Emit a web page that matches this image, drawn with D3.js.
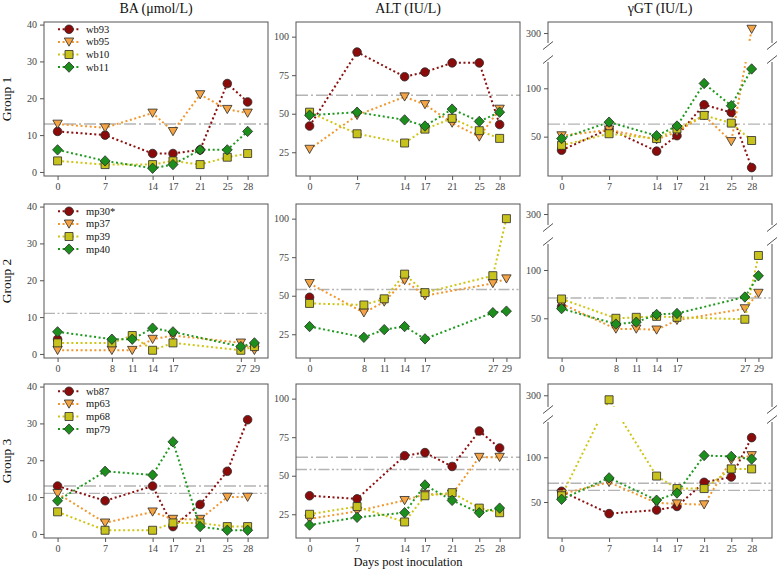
<!DOCTYPE html>
<html><head><meta charset="utf-8">
<script src="https://cdn.jsdelivr.net/npm/d3@7"></script>
<style>body{margin:0;background:#fff} text{font-family:"Liberation Serif","Times New Roman",serif}</style>
</head><body><svg id="c" width="778" height="571"></svg>
<script>
const daysA = [0,7,14,17,21,25,28];
const daysB = [0,8,11,14,17,27,29];
const g1Names = ["wb93","wb95","wb10","wb11"];
const g2Names = ["mp30*","mp37","mp39","mp40"];
const g3Names = ["wb87","mp63","mp68","mp79"];
const titles = ["BA (\u03bcmol/L)","ALT (IU/L)","\u03b3GT (IU/L)"];
const groupLabels = ["Group 1","Group 2","Group 3"];
const g1BA  = [[11,10,5,5,6,24,19],[13,12,16,11,21,17,16],[3,2,2,3,2,4,5],[6,3,1,2,6,6,11]];
const g1ALT = [[42,90,74,77,83,83,43],[27,49,61,56,44,35,53],[51,37,31,40,47,39,34],[49,51,46,42,53,45,51]];
const g1GGT = [[36,58,35,51,83,75,18],[51,57,47,55,72,45,304],[41,53,48,58,72,64,46],[48,65,51,61,105,82,120]];
const g2BA  = [[4,null,null,null,null,null,null],[1,1,1,4,5,3,1],[3,3,5,1,3,1,2],[6,4,4,7,6,2,3]];
const g2ALT = [[49,null,null,null,null,null,null],[58,39,46,60,50,58,61],[45,44,48,64,52,63,100],[30,23,28,30,22,39,40]];
const g2GGT = [[62,null,null,null,null,null,null],[65,39,39,38,48,60,76],[70,50,51,52,51,49,115],[60,44,46,54,55,72,94]];
const g3BA  = [[13,9,13,2,8,17,31],[11,3,6,4,4,10,10],[6,1,1,3,3,2,2],[9,17,16,25,2,1,1]];
const g3ALT = [[37,35,63,65,56,79,68],[22,27,34,38,38,62,62],[25,30,20,37,39,29,26],[18,23,26,44,34,26,29]];
const g3GGT = [[62,37,41,45,72,78,122],[59,72,49,48,47,97,102],[57,295,79,65,65,87,87],[53,77,52,60,102,101,98]];
const refBA = [13,11], refALT = [62,54], refGGT = [63,71];
const ticksBA = [0,10,20,30,40], ticksALT = [25,50,75,100], ticksGGTlo = [50,100], ticksGGThi = [300];

const groups = [
  {names:g1Names, days:daysA, data:[g1BA,g1ALT,g1GGT], refs:[0]},
  {names:g2Names, days:daysB, data:[g2BA,g2ALT,g2GGT], refs:[1]},
  {names:g3Names, days:daysA, data:[g3BA,g3ALT,g3GGT], refs:[0,1]}
];
const refVals = [refBA, refALT, refGGT];
const refDash = ["12,3,2,3","11,2.5,2,2.5,2,2.5"];

const lefts=[44,296,548], W=224, tops=[22,204,384], H=154;
const xDom=[-2,31];
const baDom=[-1.1,40.7], altDom=[9.6,109.5];
const ggtLo=[[9.3,127.2],[8.9,126.9],[9.7,139.5]];
const ggtHi=[[289.7,311.4],[288.6,310.4],[286.9,312.6]];
const ggtGap=[[21,40],[21,40],[23,38]];
const lineCol=["#8b1010","#f0982e","#cfc514","#1f991f"];
const fillCol=["#8b0b0b","#f4a444","#c8c21c","#1b8e1b"];
const shapes=["circle","tri","square","diamond"];

const svg=d3.select("#c");
function marker(g,shape,x,y,i){
  let p;
  if(shape==="circle"){ g.append("circle").attr("cx",x).attr("cy",y).attr("r",4.3).attr("fill",fillCol[i]).attr("stroke","#2a2a2a").attr("stroke-width",0.8); return;}
  if(shape==="tri") p=`M${x-4.7},${y-3.9}L${x+4.7},${y-3.9}L${x},${y+4.3}Z`;
  if(shape==="square") p=`M${x-4},${y-4}h8v8h-8Z`;
  if(shape==="diamond") p=`M${x},${y-5.2}L${x+5},${y}L${x},${y+5.2}L${x-5},${y}Z`;
  g.append("path").attr("d",p).attr("fill",fillCol[i]).attr("stroke","#2a2a2a").attr("stroke-width",0.8);
}

titles.forEach((t,c)=>{
  svg.append("text").attr("x",lefts[c]+W/2).attr("y",13).attr("text-anchor","middle").attr("font-size",14).attr("fill","#111").text(t);
});
svg.append("text").attr("x",408).attr("y",566).attr("text-anchor","middle").attr("font-size",12.5).attr("fill","#111").text("Days post inoculation");

groups.forEach((grp,r)=>{
  const T=tops[r];
  svg.append("text").attr("transform",`translate(11,${T+H/2}) rotate(-90)`).attr("text-anchor","middle").attr("font-size",13.5).attr("fill","#111").text(groupLabels[r]);
  for(let c=0;c<3;c++){
    const L=lefts[c];
    const g=svg.append("g");
    const x=d3.scaleLinear().domain(xDom).range([L,L+W]);
    let yf, axes=[];
    if(c===0){const y=d3.scaleLinear().domain(baDom).range([T+H,T]); yf=y; axes.push([y,ticksBA]);}
    else if(c===1){const y=d3.scaleLinear().domain(altDom).range([T+H,T]); yf=y; axes.push([y,ticksALT]);}
    else {
      const lo=d3.scaleLinear().domain(ggtLo[r]).range([T+H,T+ggtGap[r][1]]);
      const hi=d3.scaleLinear().domain(ggtHi[r]).range([T+ggtGap[r][0],T]);
      yf=v=> v>=ggtHi[r][0]?hi(v):lo(v);
      axes.push([lo,ticksGGTlo]); axes.push([hi,ticksGGThi]);
    }
    const cid=`clip${r}${c}`;
    svg.append("clipPath").attr("id",cid).append("rect").attr("x",L).attr("y",T).attr("width",W).attr("height",H);
    const inner=g.append("g").attr("clip-path",`url(#${cid})`);
    grp.refs.forEach(k=>{
      const v=refVals[c][k];
      inner.append("line").attr("x1",L).attr("x2",L+W).attr("y1",yf(v)).attr("y2",yf(v))
        .attr("stroke","#b4b4b4").attr("stroke-width",1.4).attr("stroke-dasharray",refDash[k]);
    });
    const series=grp.data[c];
    const lg=g.append("g");
    series.forEach((vals,i)=>{
      const pts=grp.days.map((d,j)=>[d,vals[j]]);
      const line=d3.line().defined(p=>p[1]!=null).x(p=>x(p[0])).y(p=>yf(p[1]));
      inner.append("path").attr("d",line(pts)).attr("fill","none").attr("stroke",lineCol[i])
        .attr("stroke-width",2).attr("stroke-dasharray","2,2.6");
      pts.filter(p=>p[1]!=null).forEach(p=>marker(inner,shapes[i],x(p[0]),yf(p[1]),i));
    });
    g.append("rect").attr("x",L).attr("y",T).attr("width",W).attr("height",H).attr("fill","none").attr("stroke","#555").attr("stroke-width",1);
    if(c===2){
      const a=T+ggtGap[r][0], b=T+ggtGap[r][1];
      g.append("rect").attr("x",L-1.5).attr("y",a).attr("width",W+3).attr("height",b-a).attr("fill","#fff");
      [L,L+W].forEach(xx=>{
        [a+2.5,b-2.5].forEach(yy=>{
          g.append("line").attr("x1",xx-5).attr("y1",yy+4).attr("x2",xx+5).attr("y2",yy-4).attr("stroke","#555").attr("stroke-width",1);
        });
      });
    }
    axes.forEach(([s,tv])=>{
      const ax=g.append("g").attr("transform",`translate(${L},0)`).call(d3.axisLeft(s).tickValues(tv).tickSize(4).tickPadding(3));
      ax.select(".domain").remove();
      ax.selectAll("line").attr("stroke","#555");
      ax.selectAll("text").attr("font-size",10).attr("fill","#444").style("font-family","'Liberation Serif',serif");
    });
    const xa=g.append("g").attr("transform",`translate(0,${T+H})`).call(d3.axisBottom(x).tickValues(grp.days).tickSize(4).tickPadding(3));
    xa.select(".domain").remove();
    xa.selectAll("line").attr("stroke","#555");
    xa.selectAll("text").attr("font-size",10).attr("fill","#444").style("font-family","'Liberation Serif',serif");
    if(c===0){
      grp.names.forEach((n,i)=>{
        const yy=T+7.3+i*12.6;
        g.append("line").attr("x1",L+14).attr("x2",L+36).attr("y1",yy).attr("y2",yy).attr("stroke",lineCol[i]).attr("stroke-width",2).attr("stroke-dasharray","2,2.6");
        marker(g,shapes[i],L+25,yy,i);
        g.append("text").attr("x",L+42).attr("y",yy+3.5).attr("font-size",10.5).attr("fill","#111").text(n);
      });
    }
  }
});
</script></body></html>
